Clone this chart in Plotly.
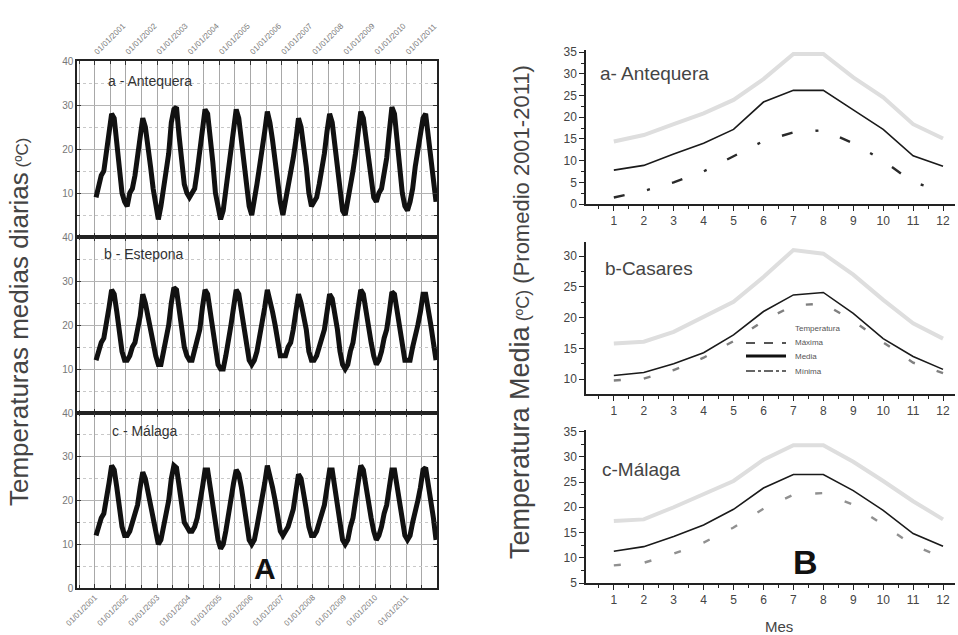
import plotly.graph_objects as go

W, H = 958, 635

def px(x):
    return x / W

def py(y):
    return 1 - y / H

# ---------------- Data ----------------
anios = list(range(2001, 2012))
prefijo_fecha = "01/01/"

# Daily mean temperatures (approximated month by month), 2001-2011
antequera_diaria = [
    9, 12, 14, 15, 19, 24, 28, 27, 21, 17, 10, 8,
    7, 10, 11, 14, 18, 23, 27, 25, 21, 16, 11, 7,
    4, 7, 12, 15, 19, 26, 29, 29.5, 23, 16, 12, 10,
    9, 10, 11, 15, 20, 25, 29, 28, 23, 17, 10, 7,
    4, 6, 11, 15, 20, 26, 29, 27, 22, 17, 10, 7,
    5, 8, 12, 16, 21, 24, 28.5, 26, 22, 17, 12, 8,
    5, 8, 11, 14, 18, 22, 27, 25, 21, 16, 10, 7,
    8, 9, 12, 15, 19, 24, 28, 26, 21, 15, 9, 6,
    5, 8, 12, 15, 19, 25, 28.5, 27, 22, 17, 12, 9,
    8, 10, 11, 15, 18, 24, 29.5, 28, 22, 16, 10, 7,
    6, 8, 11, 16, 20, 24, 27, 28, 23, 18, 13, 8,
]
estepona_diaria = [
    12, 14, 16, 17, 20, 24, 28, 27, 23, 19, 14, 12,
    12, 13, 15, 16, 19, 22, 27, 25, 22, 19, 15, 13,
    11, 11, 14, 17, 20, 25, 28.5, 28, 23, 18, 15, 13,
    12, 12, 14, 16, 19, 24, 28, 27, 23, 19, 14, 11,
    10, 10, 13, 16, 20, 24, 28, 27, 23, 19, 15, 12,
    11, 12, 14, 17, 21, 24, 28, 26, 23, 20, 16, 13,
    13, 13, 15, 16, 19, 23, 27, 25, 22, 19, 14, 12,
    12, 13, 15, 17, 19, 23, 27, 26, 23, 19, 14, 11,
    10, 11, 14, 16, 20, 24, 28, 27, 23, 20, 16, 13,
    11, 12, 14, 17, 19, 23, 27.5, 27, 23, 19, 15, 12,
    12, 12, 15, 17, 20, 23, 27, 27, 24, 20, 16, 12,
]
malaga_diaria = [
    12, 14, 16, 17, 20, 24, 28, 27, 23, 19, 14, 12,
    12, 13, 15, 17, 19, 23, 26.5, 25, 22, 19, 15, 12,
    10, 11, 14, 17, 20, 25, 28, 27.5, 23, 18, 15, 14,
    13, 13, 14, 16, 19, 23, 27, 27, 23, 19, 14, 11,
    9, 10, 13, 17, 21, 24, 27, 26, 23, 19, 14, 11,
    10, 11, 14, 17, 21, 24, 28, 26, 23, 20, 16, 13,
    12, 13, 14, 16, 18, 22, 26, 25, 22, 18, 14, 12,
    12, 13, 15, 17, 19, 23, 27, 27, 23, 19, 14, 11,
    10, 11, 14, 16, 20, 24, 28, 27, 23, 20, 16, 13,
    11, 12, 14, 17, 19, 23, 27, 27, 23, 19, 15, 12,
    11, 12, 15, 17, 20, 23, 27, 27.5, 24, 20, 16, 11,
]

# Monthly averages 2001-2011
meses = list(range(1, 13))
antequera_max = [14.4, 15.9, 18.4, 20.9, 24.0, 28.8, 34.6, 34.6, 29.2, 24.6, 18.4, 15.1]
antequera_media = [7.8, 8.9, 11.5, 14.0, 17.2, 23.5, 26.2, 26.2, 21.7, 17.2, 11.1, 8.7]
antequera_min = [1.5, 3.0, 5.0, 7.5, 11.0, 14.5, 16.5, 17.0, 14.0, 10.0, 5.0, 3.0]

casares_max = [15.8, 16.1, 17.7, 20.2, 22.6, 26.6, 31.0, 30.4, 27.0, 22.9, 19.1, 16.6]
casares_media = [10.6, 11.1, 12.5, 14.3, 17.2, 21.0, 23.7, 24.1, 20.7, 16.6, 13.7, 11.6]
casares_min = [9.8, 10.1, 11.5, 13.5, 16.2, 19.5, 22.0, 22.3, 19.5, 16.0, 12.7, 11.0]

malaga_max = [17.3, 17.6, 20.0, 22.5, 25.2, 29.4, 32.3, 32.3, 29.0, 25.2, 21.2, 17.6]
malaga_media = [11.3, 12.2, 14.2, 16.5, 19.6, 23.8, 26.5, 26.5, 23.3, 19.4, 14.8, 12.3]
malaga_min = [8.5, 9.0, 10.8, 13.0, 16.0, 19.7, 22.5, 22.8, 20.5, 16.5, 12.5, 10.0]

# ---------------- Figure ----------------
fechas = [a + (m - 0.5) / 12 for a in anios for m in meses]

fig = go.Figure()

FONT = "Arial, Liberation Sans, sans-serif"

left_series = [antequera_diaria, estepona_diaria, malaga_diaria]
for i, serie in enumerate(left_series):
    ax = "" if i == 0 else str(i + 1)
    fig.add_trace(go.Scatter(x=fechas, y=serie, mode="lines",
                             line=dict(color="#111111", width=5),
                             xaxis="x" + ax, yaxis="y" + ax, showlegend=False))

right_sets = [
    (antequera_max, antequera_media, antequera_min, "#2a2a2a", "11px,23px,3px,23px"),
    (casares_max, casares_media, casares_min, "#808080", "7px,23px"),
    (malaga_max, malaga_media, malaga_min, "#909090", "7px,24px"),
]
for j, (mx, md, mn, mincol, mindash) in enumerate(right_sets):
    ax = str(j + 4)
    fig.add_trace(go.Scatter(x=meses, y=mx, mode="lines", line=dict(color="#dedede", width=4),
                             xaxis="x" + ax, yaxis="y" + ax, showlegend=False))
    fig.add_trace(go.Scatter(x=meses, y=mn, mode="lines",
                             line=dict(color=mincol, width=2.4, dash=mindash),
                             xaxis="x" + ax, yaxis="y" + ax, showlegend=False))
    fig.add_trace(go.Scatter(x=meses, y=md, mode="lines", line=dict(color="#1a1a1a", width=1.6),
                             xaxis="x" + ax, yaxis="y" + ax, showlegend=False))

# ---------------- Axes ----------------
left_dom_x = [px(77), px(437)]
left_dom_y = [[py(237), py(61)], [py(413), py(237)], [py(588), py(413)]]

grid_col = "#b4b4b4"
vgrid_col = "#a8a8a8"
for i in range(3):
    xa = dict(domain=left_dom_x, range=[2000.43, 2011.99], showline=True, linecolor="#222",
              linewidth=1.5, mirror="ticks", ticks="inside", ticklen=4, tickcolor="#333",
              tickmode="linear", tick0=2001, dtick=1, tickprefix=prefijo_fecha, tickformat="d",
              showgrid=True, gridcolor=vgrid_col, gridwidth=1, zeroline=False,
              minor=dict(dtick=0.5, tick0=2001, showgrid=True, gridcolor=vgrid_col,
                         gridwidth=1, ticks="inside", ticklen=3, tickcolor="#333"),
              tickfont=dict(size=8, color="#7a7a7a", family=FONT), tickangle=-45,
              automargin=False,
              anchor="y" + ("" if i == 0 else str(i + 1)))
    if i == 0:
        xa["side"] = "top"
    elif i == 1:
        xa["showticklabels"] = False
    ya = dict(domain=left_dom_y[i], range=[0, 40], showline=True, linecolor="#222",
              linewidth=1.5, mirror="ticks", ticks="inside", ticklen=4, tickcolor="#333",
              tickvals=[0, 10, 20, 30, 40] if i == 2 else [10, 20, 30, 40],
              showgrid=True, gridcolor=grid_col, zeroline=False,
              minor=dict(dtick=5, showgrid=True, gridcolor="#c8c8c8", griddash="dot",
                         ticks="inside", ticklen=3, tickcolor="#333"),
              tickfont=dict(size=10, color="#777", family=FONT), automargin=False,
              anchor="x" + ("" if i == 0 else str(i + 1)))
    key = "" if i == 0 else str(i + 1)
    fig.update_layout(**{"xaxis" + key: xa, "yaxis" + key: ya})

right_dom_x = [px(586), px(955)]
right_dom_y = [[py(204), py(50)], [py(394), py(242)], [py(583), py(430)]]
right_ranges = [[0, 35.5], [7.6, 32.3], [5, 35.3]]
for j in range(3):
    key = str(j + 4)
    xa = dict(domain=right_dom_x, range=[0.07, 12.4], showline=True, linecolor="#222",
              linewidth=1.5, ticks="outside", ticklen=5, tickcolor="#222",
              tickvals=meses, showgrid=False, zeroline=False,
              minor=dict(dtick=0.5, tick0=0, ticks="outside", ticklen=3, tickcolor="#222"),
              tickfont=dict(size=12, color="#444", family=FONT), automargin=False,
              anchor="y" + key)
    ya = dict(domain=right_dom_y[j], range=right_ranges[j], showline=True, linecolor="#222",
              linewidth=1.5, ticks="outside", ticklen=5, tickcolor="#222", dtick=5,
              showgrid=False, zeroline=False,
              minor=dict(dtick=2.5, ticks="outside", ticklen=3, tickcolor="#222"),
              tickfont=dict(size=12, color="#444", family=FONT), automargin=False,
              anchor="x" + key)
    fig.update_layout(**{"xaxis" + key: xa, "yaxis" + key: ya})

# ---------------- Annotations ----------------
ann = []

def text(x, y, s, size, color="#333", bold=False, xanchor="left", angle=0):
    if bold:
        s = "<b>" + s + "</b>"
    ann.append(dict(x=px(x), y=py(y), xref="paper", yref="paper", text=s, showarrow=False,
                    xanchor=xanchor, yanchor="middle", textangle=angle,
                    font=dict(size=size, color=color, family=FONT)))

text(106, 81, "a - Antequera", 14, "#333")
text(102, 254, "b - Estepona", 14, "#333")
text(110, 431, "c - Málaga", 14, "#333")

text(598, 73, "a- Antequera", 19, "#444")
text(603, 268, "b-Casares", 19, "#444")
text(600, 469, "c-Málaga", 19, "#444")

text(265, 568, "A", 30, "#111", bold=True, xanchor="center")
text(805, 562, "B", 34, "#111", bold=True, xanchor="center")
text(779, 626, "Mes", 15, "#444", xanchor="center")

text(19, 322, "Temperaturas medias diarias<span style='font-size:17px'> (ºC)</span>", 26,
     "#444", xanchor="center", angle=-90)
text(520, 312, "Temperatura Media<span style='font-size:18px'> (ºC)</span>"
     "<span style='font-size:22px'> (Promedio 2001-2011)</span>", 27,
     "#444", xanchor="center", angle=-90)

# manual legend inside panel b-Casares
text(793, 328, "Temperatura", 8, "#555")
leg = [("Máxima", 343, "#555", 2, "dash"), ("Media", 356, "#111", 3, "solid"),
       ("Mínima", 371, "#666", 2, "dashdot")]
shapes = []
for name, yy, col, wd, ds in leg:
    shapes.append(dict(type="line", xref="paper", yref="paper", x0=px(746), x1=px(786),
                       y0=py(yy), y1=py(yy), line=dict(color=col, width=wd, dash=ds)))
    text(793, yy, name, 8, "#555")

fig.update_layout(width=W, height=H, margin=dict(l=0, r=0, t=0, b=0),
                  paper_bgcolor="white", plot_bgcolor="white", showlegend=False,
                  annotations=ann, shapes=shapes, font=dict(family=FONT))

fig.write_html("out.html", config={"displayModeBar": False},
               post_script="document.body.style.margin='0';")
